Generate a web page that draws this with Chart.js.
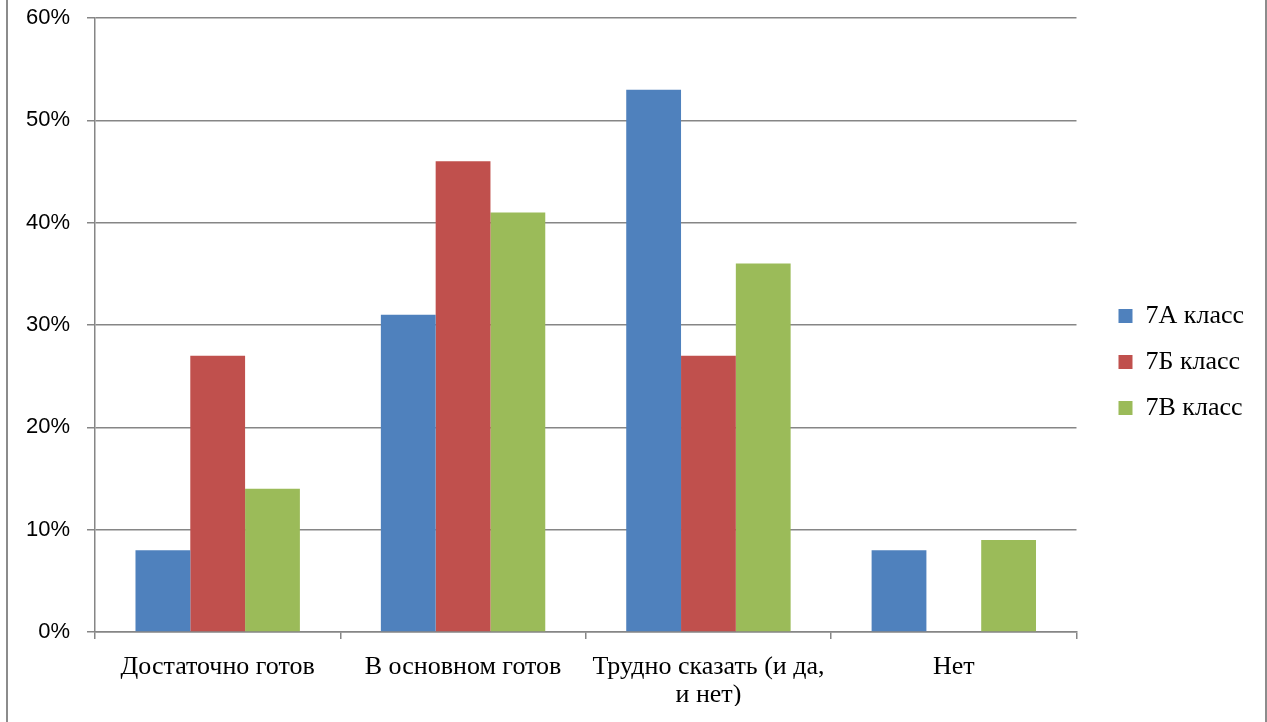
<!DOCTYPE html>
<html>
<head>
<meta charset="utf-8">
<script src="https://cdn.jsdelivr.net/npm/chart.js@4/dist/chart.umd.min.js"></script>
<style>
    html, body { margin: 0; padding: 0; background: #fff; }
    .wrap { position: relative; width: 1267px; height: 722px; }
    .frame { position: absolute; left: 6px; top: -4px; width: 1257px; height: 730px;
             border-left: 2px solid #8c8c8c; border-right: 2px solid #8c8c8c; pointer-events: none; }
    canvas { display: block; }
</style>
</head>
<body>
<div class="wrap">
    <canvas id="chart" width="1267" height="722"></canvas>
    <div class="frame"></div>
</div>
<script>
// Data
const categories = ['Достаточно готов', 'В основном готов', ['Трудно сказать (и да,', 'и нет)'], 'Нет'];
const class7A = [8, 31, 53, 8];
const class7B = [27, 46, 27, 0];
const class7V = [14, 41, 36, 9];
const seriesNames = ['7А класс', '7Б класс', '7В класс'];
const yTicks = [0, 10, 20, 30, 40, 50, 60];

const gridColor = '#868686';
const serif = '"Liberation Serif", "Times New Roman", serif';

const ctx = document.getElementById('chart').getContext('2d');
new Chart(ctx, {
    type: 'bar',
    data: {
        labels: categories,
        datasets: [
            { label: seriesNames[0], data: class7A, backgroundColor: '#4F81BD' },
            { label: seriesNames[1], data: class7B, backgroundColor: '#C0504D' },
            { label: seriesNames[2], data: class7V, backgroundColor: '#9BBB59' }
        ]
    },
    options: {
        responsive: false,
        animation: false,
        devicePixelRatio: 1,
        layout: {
            padding: { top: 18, right: 13, bottom: 16, left: 0 }
        },
        datasets: {
            bar: { barPercentage: 1, categoryPercentage: 0.67 }
        },
        plugins: {
            tooltip: { enabled: false },
            legend: {
                position: 'right',
                labels: {
                    boxWidth: 14,
                    boxHeight: 14,
                    padding: 20,
                    color: '#000',
                    font: { family: serif, size: 26 }
                }
            }
        },
        scales: {
            x: {
                afterFit: (scale) => { scale.height = 74; },
                grid: {
                    offset: true,
                    drawOnChartArea: false,
                    drawTicks: true,
                    tickLength: 7,
                    color: gridColor,
                    lineWidth: 1.5
                },
                border: { color: gridColor, width: 1.5 },
                ticks: {
                    color: '#000',
                    padding: 14,
                    maxRotation: 0,
                    font: { family: serif, size: 26, lineHeight: 1.08 }
                }
            },
            y: {
                min: 0,
                max: 60,
                afterFit: (scale) => {
                    scale.width = 95;
                    scale.paddingTop = 0;
                    scale.paddingBottom = 0;
                },
                afterBuildTicks: (scale) => { scale.ticks = yTicks.map(v => ({ value: v })); },
                grid: {
                    color: gridColor,
                    lineWidth: 1.5,
                    tickLength: 8
                },
                border: { color: gridColor, width: 1.5 },
                ticks: {
                    color: '#000',
                    padding: 17,
                    font: { family: '"Liberation Sans", Arial, sans-serif', size: 22 },
                    callback: (v) => v + '%'
                }
            },
            // empty axis only to keep a gap between plot and legend
            gap: {
                type: 'linear',
                position: 'right',
                display: true,
                afterFit: (scale) => {
                    scale.width = 22;
                    scale.paddingTop = 0;
                    scale.paddingBottom = 0;
                },
                grid: { display: false, drawOnChartArea: false },
                border: { display: false },
                ticks: { display: false }
            }
        }
    }
});
</script>
</body>
</html>
